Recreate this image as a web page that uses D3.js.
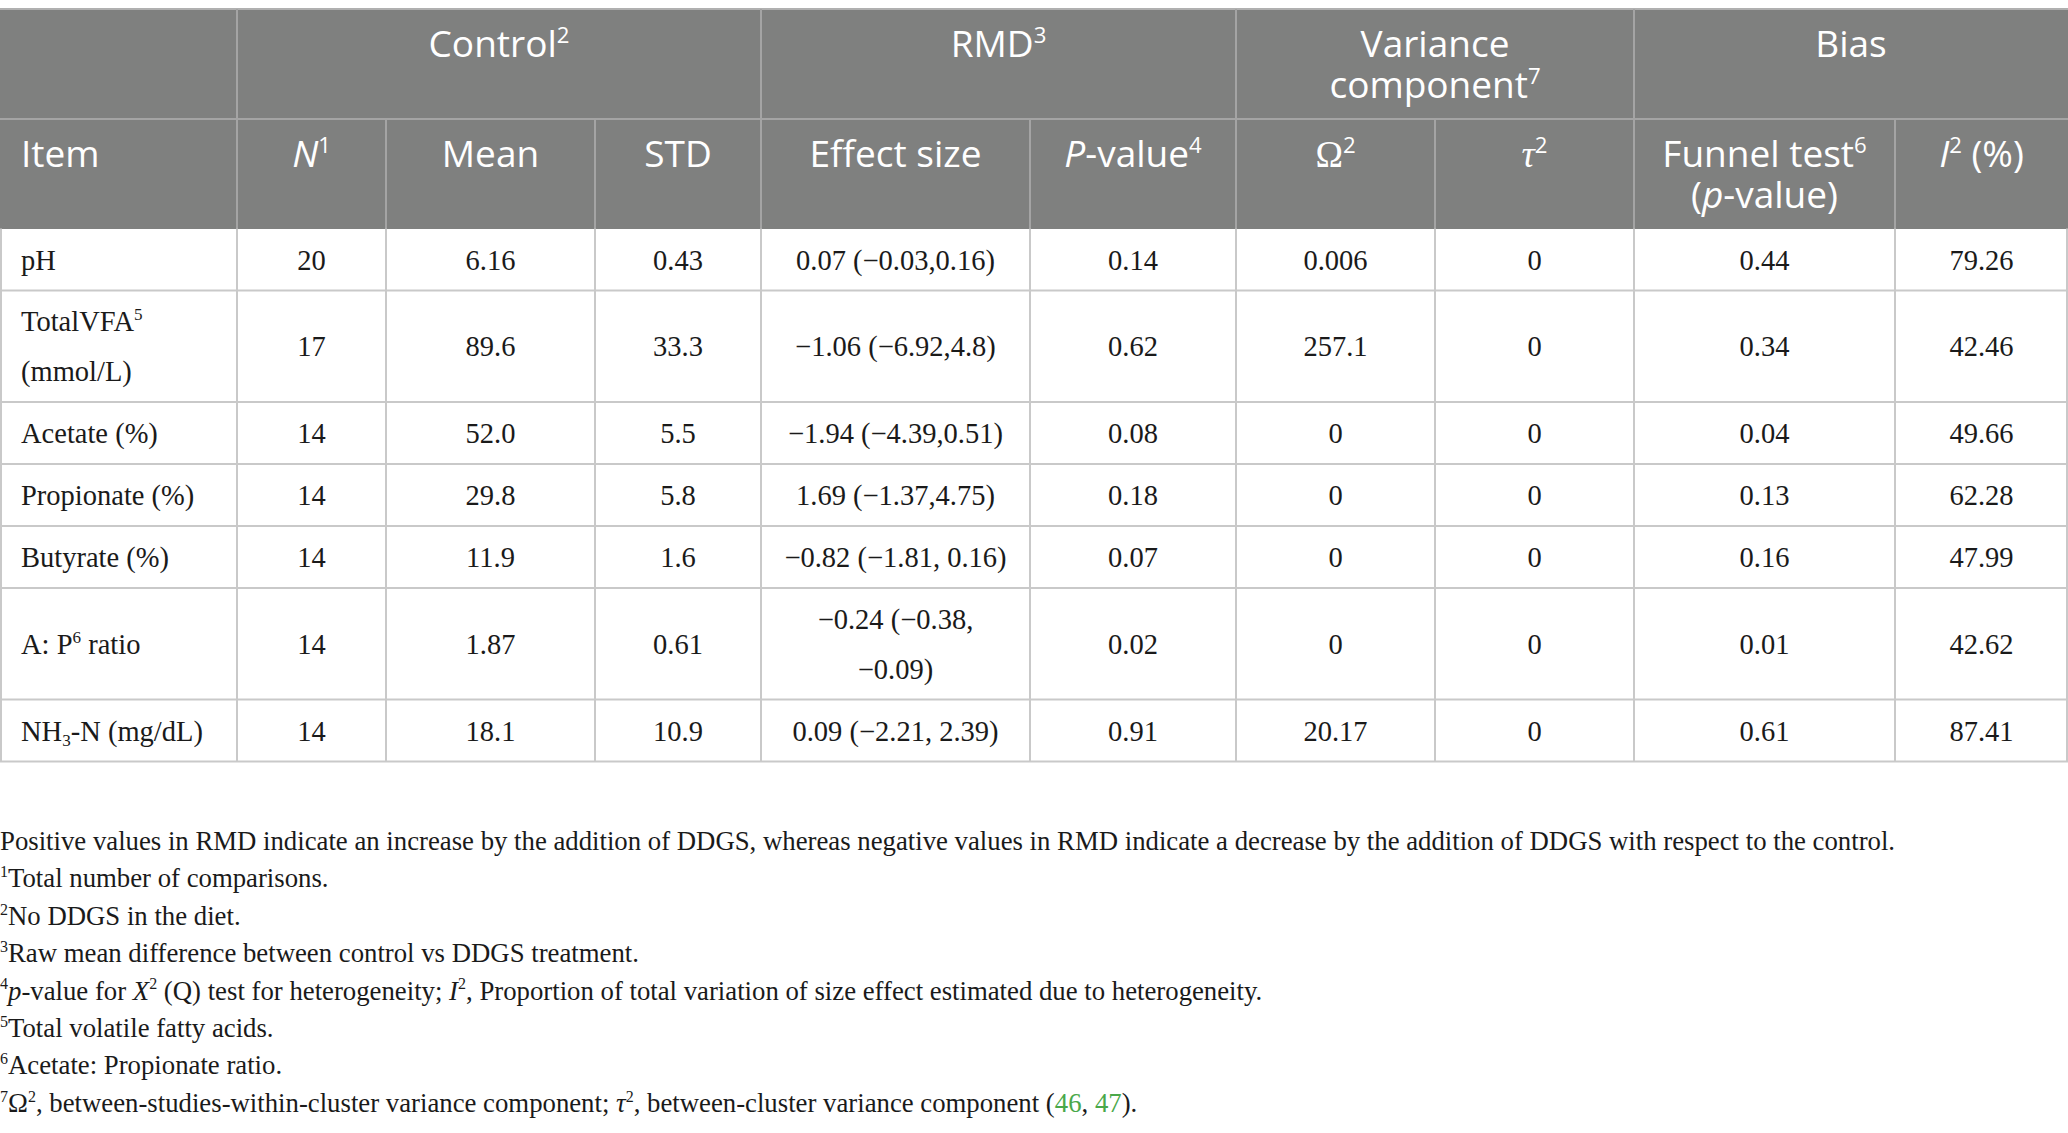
<!DOCTYPE html>
<html lang="en">
  <head>
    <meta charset="utf-8" />
    <script src="https://d3js.org/d3.v7.min.js"></script>
    <style>
      body {
        margin: 0;
        background: #ffffff;
      }
      .head text {
        font-family: "Open Sans", sans-serif;
        fill: #ffffff;
      }
      .cells text {
        font-family: "Liberation Serif", serif;
        fill: #1a1a1a;
      }
      .notes text {
        font-family: "Liberation Serif", serif;
        fill: #1a1a1a;
      }
    </style>
    <title>DDGS rumen fermentation table</title>
  </head>

  <body>
    <svg id="table" width="2068" height="1133"></svg>

    <script>
      // markup: ^{sup} _{sub} *italic* [green ref] ~serif~ , "|" = new line
      const groupHeaders = ["", "Control^{2}", "RMD^{3}", "Variance|component^{7}", "Bias"];
      const groupSpans = [[0, 1], [1, 4], [4, 6], [6, 8], [8, 10]];
      const columnHeaders = [
        "Item",
        "*N*^{1}",
        "Mean",
        "STD",
        "Effect size",
        "*P*-value^{4}",
        "~Ω~^{2}",
        "~*τ*~^{2}",
        "Funnel test^{6}|(*p*-value)",
        "*I*^{2} (%)",
      ];

      const items = [
        "pH",
        "TotalVFA^{5}|(mmol/L)",
        "Acetate (%)",
        "Propionate (%)",
        "Butyrate (%)",
        "A: P^{6} ratio",
        "NH_{3}-N (mg/dL)",
      ];
      const nValues = ["20", "17", "14", "14", "14", "14", "14"];
      const means = ["6.16", "89.6", "52.0", "29.8", "11.9", "1.87", "18.1"];
      const stds = ["0.43", "33.3", "5.5", "5.8", "1.6", "0.61", "10.9"];
      const effectSizes = [
        "0.07 (−0.03,0.16)",
        "−1.06 (−6.92,4.8)",
        "−1.94 (−4.39,0.51)",
        "1.69 (−1.37,4.75)",
        "−0.82 (−1.81, 0.16)",
        "−0.24 (−0.38,|−0.09)",
        "0.09 (−2.21, 2.39)",
      ];
      const pValues = ["0.14", "0.62", "0.08", "0.18", "0.07", "0.02", "0.91"];
      const omega2 = ["0.006", "257.1", "0", "0", "0", "0", "20.17"];
      const tau2 = ["0", "0", "0", "0", "0", "0", "0"];
      const funnelP = ["0.44", "0.34", "0.04", "0.13", "0.16", "0.01", "0.61"];
      const i2 = ["79.26", "42.46", "49.66", "62.28", "47.99", "42.62", "87.41"];

      const footnotes = [
        "Positive values in RMD indicate an increase by the addition of DDGS, whereas negative values in RMD indicate a decrease by the addition of DDGS with respect to the control.",
        "^{1}Total number of comparisons.",
        "^{2}No DDGS in the diet.",
        "^{3}Raw mean difference between control vs DDGS treatment.",
        "^{4}*p*-value for *X*^{2} (Q) test for heterogeneity; *I*^{2}, Proportion of total variation of size effect estimated due to heterogeneity.",
        "^{5}Total volatile fatty acids.",
        "^{6}Acetate: Propionate ratio.",
        "^{7}Ω^{2}, between-studies-within-cluster variance component; *τ*^{2}, between-cluster variance component ([46], [47]).",
      ];

      const svg = d3.select("svg#table");

      // layout
      const colEdges = [0, 237, 386, 595, 761, 1030, 1236, 1435, 1634, 1895, 2068];
      const colX = d3.scaleLinear().domain(d3.range(colEdges.length)).range(colEdges);
      const headTop = 9;
      const headRow = 110;
      const lineGap = 41;
      const bodyTop = headTop + headRow * 2 - 0.5;
      const singleRow = 62;
      const extraLine = 49.5;
      const bodyLine = 50;

      const rows = items.map((d, i) => ({
        cells: [items[i], nValues[i], means[i], stds[i], effectSizes[i], pValues[i], omega2[i], tau2[i], funnelP[i], i2[i]],
      }));
      const rowHeights = rows.map(r => singleRow + (d3.max(r.cells, c => c.split("|").length) - 1) * extraLine);
      const rowEdges = [bodyTop, ...d3.cumsum(rowHeights).map(h => bodyTop + h)];
      const rowY = d3.scaleLinear().domain(d3.range(rowEdges.length)).range(rowEdges);

      function rich(textSel, str, size) {
        const parts = str.split(/(\^\{[^}]*\}|_\{[^}]*\}|\*[^*]+\*|\[[^\]]+\]|~[^~]+~)/).filter(s => s !== "");
        let shift = 0;
        const add = (txt, opt) => {
          const t = textSel.append("tspan").text(txt);
          const target = opt.shift || 0;
          if (target !== shift) t.attr("dy", target - shift);
          shift = target;
          if (opt.small) t.attr("font-size", size * 0.6);
          if (opt.italic) t.attr("font-style", "italic");
          if (opt.green) t.style("fill", "#4aa84a");
          if (opt.serif) t.attr("font-family", "Liberation Serif, serif");
        };
        parts.forEach(p => {
          if (p.startsWith("^{")) add(p.slice(2, -1), { small: true, shift: -size * 0.38 });
          else if (p.startsWith("_{")) add(p.slice(2, -1), { small: true, shift: size * 0.18 });
          else if (p.startsWith("*")) add(p.slice(1, -1), { italic: true });
          else if (p.startsWith("[")) add(p.slice(1, -1), { green: true });
          else if (p.startsWith("~")) {
            const inner = p.slice(1, -1);
            if (inner.startsWith("*")) add(inner.slice(1, -1), { serif: true, italic: true });
            else add(inner, { serif: true });
          } else add(p, {});
        });
      }

      // header background
      const head = svg.append("g").attr("class", "head");
      head
        .append("rect")
        .attr("x", 0)
        .attr("y", headTop)
        .attr("width", colX(10))
        .attr("height", headRow * 2)
        .attr("fill", "#7f807f");

      const headSize = 37;
      const headLineColor = "#a4a4a4";

      groupHeaders.forEach((label, i) => {
        const [a, b] = groupSpans[i];
        label.split("|").forEach((line, k) => {
          const t = head
            .append("text")
            .attr("x", (colX(a) + colX(b)) / 2)
            .attr("y", headTop + 48 + k * lineGap)
            .attr("text-anchor", "middle")
            .attr("font-size", headSize);
          rich(t, line, headSize);
        });
      });

      columnHeaders.forEach((label, i) => {
        label.split("|").forEach((line, k) => {
          const t = head
            .append("text")
            .attr("x", i === 0 ? 21 : (colX(i) + colX(i + 1)) / 2)
            .attr("y", headTop + headRow + 48 + k * lineGap)
            .attr("text-anchor", i === 0 ? "start" : "middle")
            .attr("font-size", headSize);
          rich(t, line, headSize);
        });
      });

      // header rules
      head
        .append("line")
        .attr("x1", 0)
        .attr("x2", colX(10))
        .attr("y1", headTop)
        .attr("y2", headTop)
        .attr("stroke", "#b0b0b0")
        .attr("stroke-width", 2);
      head
        .append("line")
        .attr("x1", 0)
        .attr("x2", colX(10))
        .attr("y1", headTop + headRow)
        .attr("y2", headTop + headRow)
        .attr("stroke", headLineColor)
        .attr("stroke-width", 2);
      head
        .selectAll("line.g")
        .data(groupSpans.slice(1).map(s => s[0]))
        .join("line")
        .attr("class", "g")
        .attr("x1", d => colX(d))
        .attr("x2", d => colX(d))
        .attr("y1", headTop)
        .attr("y2", headTop + headRow)
        .attr("stroke", headLineColor)
        .attr("stroke-width", 2);
      head
        .selectAll("line.c")
        .data(d3.range(1, 10))
        .join("line")
        .attr("class", "c")
        .attr("x1", d => colX(d))
        .attr("x2", d => colX(d))
        .attr("y1", headTop + headRow)
        .attr("y2", bodyTop)
        .attr("stroke", headLineColor)
        .attr("stroke-width", 2);

      // body cells
      const cellSize = 28.5;
      const cells = svg.append("g").attr("class", "cells");
      const gridColor = "#c9c9c9";

      cells
        .selectAll("line.h")
        .data(d3.range(1, rowEdges.length))
        .join("line")
        .attr("class", "h")
        .attr("x1", 0)
        .attr("x2", colX(10))
        .attr("y1", d => rowY(d))
        .attr("y2", d => rowY(d))
        .attr("stroke", gridColor)
        .attr("stroke-width", 2);
      cells
        .selectAll("line.v")
        .data(d3.range(0, 11))
        .join("line")
        .attr("class", "v")
        .attr("x1", d => Math.min(Math.max(colX(d), 1), colX(10) - 1))
        .attr("x2", d => Math.min(Math.max(colX(d), 1), colX(10) - 1))
        .attr("y1", bodyTop)
        .attr("y2", rowY(rows.length))
        .attr("stroke", gridColor)
        .attr("stroke-width", 2);

      rows.forEach((r, ri) => {
        const mid = (rowY(ri) + rowY(ri + 1)) / 2;
        r.cells.forEach((c, ci) => {
          const lines = c.split("|");
          lines.forEach((line, k) => {
            const t = cells
              .append("text")
              .attr("x", ci === 0 ? 21 : (colX(ci) + colX(ci + 1)) / 2)
              .attr("y", mid + 10 - ((lines.length - 1) * bodyLine) / 2 + k * bodyLine)
              .attr("text-anchor", ci === 0 ? "start" : "middle")
              .attr("font-size", cellSize);
            rich(t, line, cellSize);
          });
        });
      });

      // footnotes
      const noteSize = 26.75;
      const notes = svg.append("g").attr("class", "notes");
      footnotes.forEach((n, i) => {
        const t = notes
          .append("text")
          .attr("x", 0)
          .attr("y", 850 + i * 37.4)
          .attr("font-size", noteSize);
        rich(t, n, noteSize);
      });
    </script>
  </body>
</html>
